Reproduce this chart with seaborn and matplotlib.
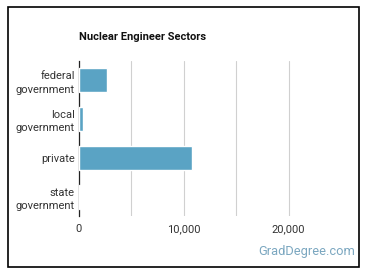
import numpy as np
import pandas as pd
import seaborn as sns
import matplotlib.pyplot as plt
from matplotlib.patches import Rectangle
from matplotlib.ticker import FuncFormatter

sectors = ['federal\ngovernment', 'local\ngovernment', 'private', 'state\ngovernment']
workers = [2700, 350, 10800, 100]

sns.set_style('white')
plt.rcParams['font.family'] = ['Roboto', 'DejaVu Sans']

df = pd.DataFrame({'sector': sectors, 'workers': workers})

fig = plt.figure(figsize=(3.7, 2.78), dpi=100)
ax = fig.add_axes([79 / 370, 62 / 278, 262 / 370, 155 / 278])

sns.barplot(data=df, x='workers', y='sector', orient='h', color='#5aa3c4',
            saturation=1, width=0.62, ax=ax, zorder=3)

ax.set_xlim(0, 25000)
ax.set_xticks([0, 10000, 20000])
ax.set_xticks([5000, 15000], minor=True)
ax.xaxis.set_major_formatter(FuncFormatter(lambda v, p: f'{int(v):,}'))
ax.grid(axis='x', which='both', color='#d0d0d0', linewidth=0.8, zorder=0)
for s in ['top', 'right', 'bottom']:
    ax.spines[s].set_visible(False)
ax.spines['left'].set_color('#222222')
ax.spines['left'].set_linewidth(0.9)
ax.tick_params(axis='both', which='both', length=0, labelsize=8, colors='#333333')
ax.tick_params(axis='x', pad=6)
ax.tick_params(axis='y', pad=3)
ax.set_xlabel('')
ax.set_ylabel('')
for lbl in ax.get_yticklabels():
    lbl.set_horizontalalignment('right')
    lbl.set_linespacing(1.4)

fig.text(79 / 370, 1 - 37 / 278, 'Nuclear Engineer Sectors', fontsize=8,
         fontweight='bold', color='#111111', va='center', ha='left')
fig.text(355 / 370, 1 - 252 / 278, 'GradDegree.com', fontsize=9.3,
         color='#7ba7c0', va='center', ha='right')

fig.add_artist(Rectangle((8 / 370, 11 / 278), 351 / 370, 260 / 278,
                         transform=fig.transFigure, fill=False,
                         edgecolor='black', linewidth=1.2))

fig.savefig('out.png', dpi=100)
